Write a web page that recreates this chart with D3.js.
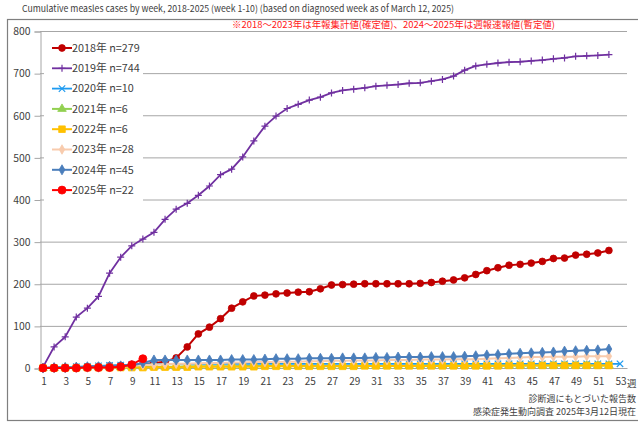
<!DOCTYPE html>
<html>
<head>
<meta charset="utf-8">
<script src="https://cdn.jsdelivr.net/npm/d3@7"></script>
<style>
  body { margin: 0; background: #fff; }
  text { font-family: "Noto Sans CJK JP", "Noto Sans", sans-serif; }
</style>
</head>
<body>
<div id="chart"></div>
<script>
// data
var weeks = d3.range(1, 54);
var yTicks = [0, 100, 200, 300, 400, 500, 600, 700, 800];
var xTicks = d3.range(1, 54, 2);

var y2018 = [0,1,1,2,3,4,5,6,7,9,12,15,24,50,81,97,117,142,157,171,173,176,178,180,181,188,
             197,198,199,200,200,200,200,200,201,203,206,209,214,222,231,238,244,246,249,253,260,261,268,270,273,279];
var y2019 = [2,50,74,121,142,170,225,263,290,306,322,353,377,391,410,432,459,472,501,539,574,598,616,626,636,643,
             653,659,662,665,669,671,673,676,677,681,685,693,707,717,721,724,726,727,729,731,734,736,740,741,742,744];
var y2020 = [0,1,2,3,4,5,6,7,8,9,9,10,10,10,10,10,10,10,10,10,10,10,10,10,10,10,10,
             10,10,10,10,10,10,10,10,10,10,10,10,10,10,10,10,10,10,10,10,10,10,10,10,10,10];
var y2021 = [0,0,1,1,1,2,2,2,3,3,3,3,3,4,4,4,4,4,5,5,5,5,5,5,5,5,
             5,5,5,5,5,5,5,5,6,6,6,6,6,6,6,6,6,6,6,6,6,6,6,6,6,6];
var y2022 = [0,0,0,0,1,1,1,1,1,1,2,2,2,2,3,3,3,3,3,3,4,4,4,4,4,4,
             4,4,4,5,5,5,5,5,5,5,5,5,5,5,5,5,6,6,6,6,6,6,6,6,6,6];
var y2023 = [0,0,0,1,1,1,2,3,5,7,8,9,10,10,11,12,12,13,13,14,14,14,15,15,16,16,
             17,17,18,18,18,19,19,19,20,20,20,21,21,21,22,23,24,25,26,26,27,27,27,28,28,28];
var y2024 = [0,1,1,2,3,3,4,5,6,12,19,19,19,19,19,19,19,20,20,20,21,22,22,22,23,23,
             23,24,24,24,25,25,26,26,26,27,27,27,28,29,31,32,34,35,36,37,38,40,41,42,43,45];
var y2025 = [0,0,0,0,1,1,1,3,8,22];

var series = [
  {name: "2018年 n=279", values: y2018, color: "#c00000", marker: "circle", r: 3.4, lw: 2},
  {name: "2019年 n=744", values: y2019, color: "#7030a0", marker: "plus", r: 3.5, lw: 1.8},
  {name: "2020年 n=10", values: y2020, color: "#1e9bf0", marker: "times", r: 3.2, lw: 1.8},
  {name: "2021年 n=6", values: y2021, color: "#92d050", marker: "triangle", r: 3.5, lw: 2},
  {name: "2022年 n=6", values: y2022, color: "#ffc000", marker: "square", r: 3.3, lw: 2},
  {name: "2023年 n=28", values: y2023, color: "#f8cbad", marker: "diamond", r: 3.3, lw: 2},
  {name: "2024年 n=45", values: y2024, color: "#4a7ebb", marker: "diamond", r: 3.5, lw: 2},
  {name: "2025年 n=22", values: y2025, color: "#ff0000", marker: "circle", r: 4, lw: 2}
];

var width = 638, height = 423;

var svg = d3.select("#chart").append("svg")
  .attr("width", width)
  .attr("height", height);

// outer frame
svg.append("rect")
  .attr("x", 7.5).attr("y", 19.5)
  .attr("width", 640).attr("height", 401)
  .attr("fill", "none").attr("stroke", "#7f7f7f").attr("stroke-width", 1.2);

svg.append("text")
  .attr("x", 22).attr("y", 12)
  .attr("font-size", 9.4).attr("fill", "#404040")
  .attr("textLength", 432).attr("lengthAdjust", "spacingAndGlyphs")
  .text("Cumulative measles cases by week, 2018-2025 (week 1-10)  (based on diagnosed week as of March 12, 2025)");

var x = d3.scaleLinear().domain([1, 53]).range([43, 620]);
var y = d3.scaleLinear().domain([0, 800]).range([368, 31]);

// gridlines
svg.append("g").selectAll("line")
  .data(yTicks.slice(1))
  .enter().append("line")
    .attr("x1", 40).attr("x2", 627)
    .attr("y1", function(d) { return y(d) + 0.5; })
    .attr("y2", function(d) { return y(d) + 0.5; })
    .attr("stroke", "#a6a6a6").attr("stroke-width", 1);

svg.append("text")
  .attr("x", 232).attr("y", 28)
  .attr("font-size", 9.4).attr("fill", "#ff2020")
  .attr("textLength", 323).attr("lengthAdjust", "spacingAndGlyphs")
  .text("※2018～2023年は年報集計値(確定値)、2024～2025年は週報速報値(暫定値)");

// y axis
var yAxis = svg.append("g")
  .attr("transform", "translate(40.5,0.5)")
  .call(d3.axisLeft(y).tickValues(yTicks).tickSize(6).tickPadding(4));
yAxis.select(".domain").attr("stroke", "#a6a6a6");
yAxis.selectAll(".tick line").attr("stroke", "#a6a6a6");
yAxis.selectAll(".tick text").attr("font-size", 10.4).attr("fill", "#404040")
  .style("font-family", "'Noto Sans CJK JP', sans-serif");

// x axis
var xAxis = svg.append("g")
  .attr("transform", "translate(0.5," + (y(0) + 0.5) + ")")
  .call(d3.axisBottom(x).tickValues(xTicks).tickFormat(d3.format("d")).tickSize(0).tickPadding(9));
xAxis.select(".domain").attr("stroke", "#a6a6a6").attr("d", "M40,0H627");
xAxis.selectAll(".tick text").attr("font-size", 10).attr("fill", "#404040")
  .style("font-family", "'Noto Sans CJK JP', sans-serif");
svg.append("text")
  .attr("x", 627).attr("y", y(0) + 18.5)
  .attr("font-size", 9.5).attr("fill", "#404040")
  .text("週");

function markerPath(type, r) {
  if (type === "plus") return "M" + (-r) + ",0H" + r + "M0," + (-r) + "V" + r;
  if (type === "times") return "M" + (-r) + "," + (-r) + "L" + r + "," + r + "M" + (-r) + "," + r + "L" + r + "," + (-r);
  if (type === "circle") return d3.symbol(d3.symbolCircle, Math.PI * r * r)();
  if (type === "square") return d3.symbol(d3.symbolSquare, 4 * r * r)();
  if (type === "triangle") return d3.symbol(d3.symbolTriangle, 2.6 * r * r)();
  return d3.symbol(d3.symbolDiamond, 2.4 * r * r)();
}

function drawMarkers(g, s, pts) {
  var stroked = (s.marker === "plus" || s.marker === "times");
  g.selectAll("path.mk")
    .data(pts)
    .enter().append("path")
      .attr("class", "mk")
      .attr("transform", function(d) { return "translate(" + d[0] + "," + d[1] + ")"; })
      .attr("d", markerPath(s.marker, s.r))
      .attr("fill", stroked ? "none" : s.color)
      .attr("stroke", s.color)
      .attr("stroke-width", stroked ? 1.2 : 0.8);
}

var line = d3.line()
  .x(function(d) { return x(d.w); })
  .y(function(d) { return y(d.v); });

series.forEach(function(s) {
  var data = s.values.map(function(v, i) { return {w: weeks[i], v: v}; });
  var g = svg.append("g");
  g.append("path")
    .datum(data)
    .attr("fill", "none")
    .attr("stroke", s.color)
    .attr("stroke-width", s.lw)
    .attr("d", line);
  drawMarkers(g, s, data.map(function(d) { return [x(d.w), y(d.v)]; }));
});

// legend
var legend = svg.append("g");
legend.append("rect")
  .attr("x", 44).attr("y", 37).attr("width", 99).attr("height", 164)
  .attr("fill", "#fff");
series.forEach(function(s, i) {
  var ly = 48 + i * 20.3;
  var g = legend.append("g");
  g.append("line")
    .attr("x1", 52).attr("x2", 72).attr("y1", ly).attr("y2", ly)
    .attr("stroke", s.color).attr("stroke-width", s.lw);
  drawMarkers(g, s, [[62, ly]]);
  g.append("text")
    .attr("x", 72).attr("y", ly + 3.8)
    .attr("font-size", 10.8).attr("fill", "#404040")
    .text(s.name);
});

// source notes (right-aligned so the whole text stays inside the picture)
svg.append("text")
  .attr("x", 636).attr("y", 402).attr("text-anchor", "end")
  .attr("font-size", 9).attr("fill", "#404040")
  .text("診断週にもとづいた報告数");
svg.append("text")
  .attr("x", 636).attr("y", 415).attr("text-anchor", "end")
  .attr("font-size", 9).attr("fill", "#404040")
  .text("感染症発生動向調査 2025年3月12日現在");
</script>
</body>
</html>
